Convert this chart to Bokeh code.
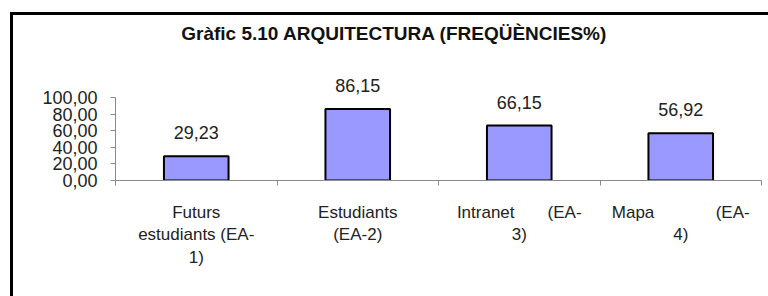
from bokeh.plotting import figure
from bokeh.models import Range1d, FixedTicker, LinearAxis, Label, ColumnDataSource
from bokeh.embed import file_html
from bokeh.resources import INLINE
from bokeh.core.properties import value

title_text = "Gràfic 5.10 ARQUITECTURA (FREQÜÈNCIES%)"
NB = "\u00a0"
categories = ["Futurs\nestudiants (EA-\n1)",
              "Estudiants\n(EA-2)",
              "Intranet" + NB * 7 + "(EA-\n3)",
              "Mapa" + NB * 13 + "(EA-\n4)"]
values = [29.23, 86.15, 66.15, 56.92]
y_ticks = [0, 20, 40, 60, 80, 100]
y_tick_labels = ["0,00", "20,00", "40,00", "60,00", "80,00", "100,00"]

FONT = "Liberation Sans"

xs = [i + 0.5 for i in range(len(categories))]
labels = [f"{v:.2f}".replace(".", ",") for v in values]
src = ColumnDataSource(dict(x=xs, top=values, label=labels))

# frame spans from canvas top; the value axis only covers 0..100
Y_END = 100 * 180 / 83

p = figure(width=768, height=296, output_backend="svg", toolbar_location=None,
           x_range=Range1d(0, len(categories)), y_range=Range1d(0, Y_END),
           x_axis_type=None, y_axis_type=None,
           min_border_left=115, min_border_right=7, min_border_top=0, min_border_bottom=116)
# outer chart-area frame (left and top edges) drawn behind a transparent canvas
p.stylesheets = [":host { background-color: #fff;"
                 " background-image: linear-gradient(#000, #000), linear-gradient(#000, #000);"
                 " background-size: 3px 284px, 758px 3px;"
                 " background-position: 10px 12px, 10px 12px;"
                 " background-repeat: no-repeat; }"]
p.outline_line_color = None
p.xgrid.visible = False
p.ygrid.visible = False
p.background_fill_color = None
p.border_fill_color = None

p.vbar(x="x", top="top", width=0.4, bottom=0, source=src,
       fill_color="#9999FF", line_color="black", line_width=2)
p.text(x="x", y="top", text="label", source=src, text_align="center",
       text_baseline="bottom", y_offset=-17, text_font=value(FONT),
       text_font_size="18px", text_color="#222222")

yaxis = LinearAxis(ticker=FixedTicker(ticks=y_ticks), bounds=(0, 100))
yaxis.major_label_overrides = {t: l for t, l in zip(y_ticks, y_tick_labels)}
yaxis.axis_line_color = "#8a8a8a"
yaxis.major_tick_line_color = "#8a8a8a"
yaxis.major_tick_out = 5
yaxis.major_tick_in = 0
yaxis.minor_tick_line_color = None
yaxis.major_label_standoff = 13
yaxis.major_label_text_font = FONT
yaxis.major_label_text_font_size = "18px"
yaxis.major_label_text_color = "#222222"
p.add_layout(yaxis, "left")

xaxis = LinearAxis(ticker=FixedTicker(ticks=xs, minor_ticks=list(range(len(categories) + 1))))
xaxis.major_label_overrides = {x: c for x, c in zip(xs, categories)}
xaxis.axis_line_color = "#8a8a8a"
xaxis.major_tick_line_color = None
xaxis.minor_tick_line_color = "#8a8a8a"
xaxis.minor_tick_out = 5
xaxis.minor_tick_in = 0
xaxis.major_label_standoff = 16
xaxis.major_label_text_font = FONT
xaxis.major_label_text_font_size = "17px"
xaxis.major_label_text_color = "#222222"
p.add_layout(xaxis, "below")

p.add_layout(Label(x=279, y=147, x_units="screen", y_units="screen", text=title_text,
                   text_align="center", text_baseline="middle", text_font=FONT,
                   text_font_size="19px", text_font_style="bold", text_color="#111111"))

open("out.html", "w").write(file_html(p, INLINE))
